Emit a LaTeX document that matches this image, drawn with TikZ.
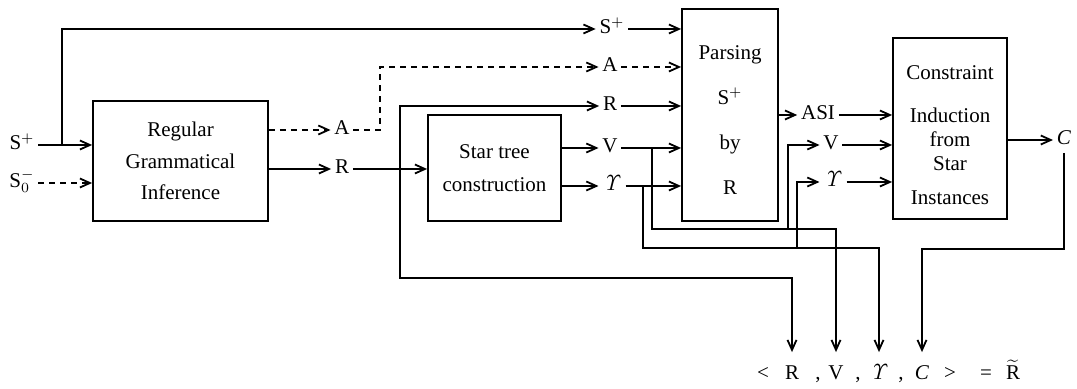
\documentclass[tikz,border=0pt]{standalone}
\usepackage[no-math]{fontspec}
\setmainfont{Liberation Serif}
\usetikzlibrary{arrows.meta,positioning,calc}

\newcommand{\ups}{\ensuremath{\mathit{\Upsilon}}}

\begin{document}
\begin{tikzpicture}[x=0.5pt,y=-0.5pt,line width=0.9pt,
  every node/.style={font=\fontsize{10.5}{12}\selectfont,align=center},
  box/.style={draw,inner sep=0pt},
  lbl/.style={inner sep=1.5pt,text height=7pt,text depth=2pt},
  tup/.style={lbl,inner ysep=6.5pt},
  dsh/.style={dash pattern=on 3pt off 2.5pt},
  >={Straight Barb[length=5pt,width=4.5pt]}]
  \useasboundingbox (0,0) rectangle (1077,389);

  % boxes
  \node[box,minimum width=87.5pt,minimum height=60pt,font=\fontsize{10.5}{15.75}\selectfont] (rgi) at (180.5,161) {Regular\\Grammatical\\Inference};
  \node[box,minimum width=66.5pt,minimum height=53pt,font=\fontsize{10.5}{16.5}\selectfont] (star) at (494.5,168) {Star tree\\construction};
  \node[box,minimum width=48pt,minimum height=106pt] (parse) at (730,115) {};
  \node[font=\fontsize{10.5}{22.5}\selectfont] (parseT) at (730,120) {Parsing\\S$^+$\\by\\R};
  \node[box,minimum width=57pt,minimum height=90.5pt] (cons) at (950,128.5) {};
  \node (consT) at (950,135) {Constraint\\[9.5pt]Induction\\from\\Star\\[5pt]Instances};

  % labels
  \node[lbl] (sin) at (22,145) {S$^+$};
  \node[lbl] (s0in) at (22,183) {S$^-_0$};
  \foreach \nm/\xx/\yy/\txt in {a1/342/130/A, r1/342/169/R, s2/612/29/S$^+$, a2/610/67/A, r2/610/106/R,
    v1/610/148/V, g1/612/186/\ups, asi/818/115/ASI, v2/831/145/V, g2/833/182/\ups, cout/1064/140/\textit{C}}
    \node[lbl] (\nm) at (\xx,\yy) {\txt};

  % result tuple
  \foreach \nm/\xx/\txt in {tl/763/<, tR/792/R, tc1/818/{,}, tV/836/V, tc2/858/{,}, tG/879/\ups,
    tc3/901/{,}, tC/922/\textit{C}, tg/950/>, te/986/=, tRt/1013/$\widetilde{\hbox{R}}$}
    \node[tup] (\nm) at (\xx,375) {\txt};

  % inputs
  \draw[->] (sin) -- (sin -| rgi.west);
  \draw[dsh,->] (s0in) -- (s0in -| rgi.west);
  \coordinate (ks) at (62,145);
  \draw[->] (ks) |- (s2);

  % grammatical inference outputs
  \draw[dsh,->] (rgi.east |- a1) -- (a1);
  \draw[->] (rgi.east |- r1) -- (r1);
  \coordinate (ka) at (380,67);
  \draw[dsh,->] (a1) -| (ka) -- (a2);
  \coordinate (kr) at (400,169);
  \coordinate (kr2) at (400,278);
  \draw[->] (r1) -- (r1 -| star.west);
  \draw[->] (kr) |- (r2);
  \draw[->] (kr) -- (kr2) -| (tR);

  % star tree outputs
  \draw[->] (star.east |- v1) -- (v1);
  \draw[->] (star.east |- g1) -- (g1);
  \foreach \nm in {s2,r2,v1,g1}
    \draw[->] (\nm) -- (\nm -| parse.west);
  \draw[dsh,->] (a2) -- (a2 -| parse.west);

  % V and gamma branches
  \coordinate (kv) at (652,148);
  \coordinate (kv2) at (652,229);
  \coordinate (kv3) at (788,229);
  \draw[->] (kv) -- (kv2) -| (tV);
  \draw[->] (kv3) |- (v2);
  \coordinate (kg) at (643,186);
  \coordinate (kg2) at (643,248);
  \coordinate (kg3) at (797,248);
  \draw[->] (kg) -- (kg2) -| (tG);
  \draw[->] (kg3) |- (g2);

  % constraint induction
  \draw[->] (parse.east |- asi) -- (asi);
  \foreach \nm in {asi,v2,g2}
    \draw[->] (\nm) -- (\nm -| cons.west);
  \draw[->] (cons.east |- cout) -- (cout);
  \coordinate (kc) at (1064,249);
  \draw[->] (cout) -- (kc) -| (tC);
\end{tikzpicture}
\end{document}
